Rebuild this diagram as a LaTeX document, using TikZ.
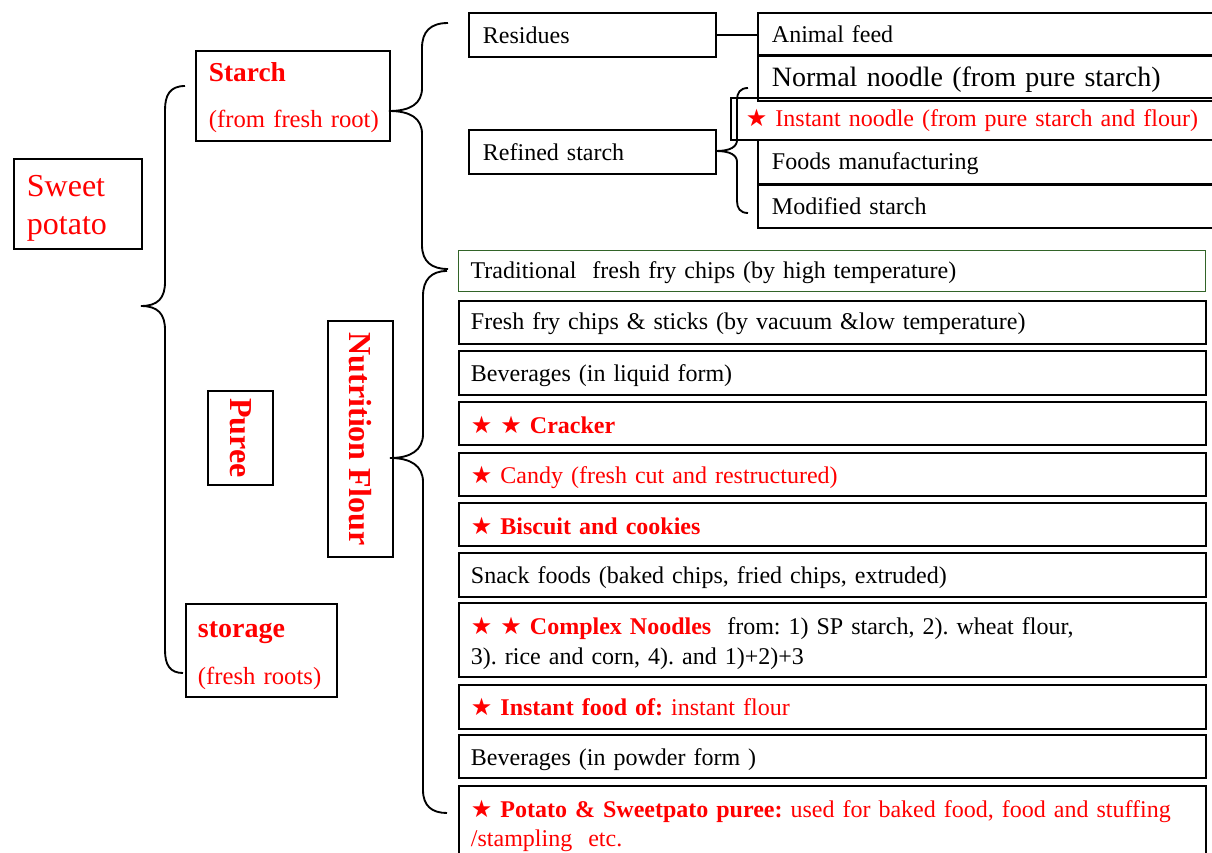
\documentclass[tikz,border=0pt]{standalone}
\usepackage{fontspec}
\setmainfont{Liberation Serif}
\newfontfamily\symfont{DejaVu Sans}
\newcommand{\st}{{\symfont ★}}
\definecolor{tred}{RGB}{255,0,0}
\definecolor{tgreen}{RGB}{50,100,40}
\frenchspacing
\begin{document}
\begin{tikzpicture}[x=0.75pt,y=-0.75pt,
  box/.style={draw, line width=1.4pt, inner ysep=0pt, anchor=north west, align=left},
  lbox/.style={box, text width=542.25pt, inner xsep=9pt, minimum height=#1, font=\fontsize{18}{22.5}\selectfont},
  tbox/.style={box, text width=322.5pt, inner xsep=10.5pt, minimum height=#1, font=\fontsize{18}{22}\selectfont},
  sbox/.style={box, text width=164.25pt, inner xsep=10.5pt, minimum height=33pt, font=\fontsize{18}{22}\selectfont},
  vbox/.style={draw, line width=1.4pt, rotate=-90, inner sep=0pt, minimum height=48.75pt, text=tred, font=\fontsize{24}{28}\selectfont\bfseries},
  brace/.style={line width=1.4pt},
  red/.style={text=tred}
]
\newcommand{\lstrut}{\rule{0pt}{15pt}}
\useasboundingbox (0,0) rectangle (1212,852);

% left column
\node[box, red, text width=76.5pt, inner xsep=9.75pt, minimum height=67.5pt, font=\fontsize{24}{28.5}\selectfont] (sp) at (13,158) {\rule{0pt}{22pt}Sweet\\potato};
\node[box, red, text width=126pt, inner xsep=9.75pt, minimum height=67.5pt, font=\fontsize{18.5}{35}\selectfont] (starch) at (195,50) {\rule{0pt}{17pt}\mbox{\fontsize{20.5}{35}\selectfont\bfseries Starch}\\\mbox{(from fresh root)}};
\node[box, red, text width=95.25pt, inner xsep=9pt, minimum height=69.75pt, font=\fontsize{18.5}{35}\selectfont] (stor) at (185,603) {\rule{0pt}{20pt}\mbox{\fontsize{21}{35}\selectfont\bfseries storage}\\\mbox{(fresh roots)}};
\node[vbox, minimum width=70.5pt] (puree) at (240.5,438) {Puree};
\node[vbox, minimum width=177pt] (nf) at (360.5,439) {\mbox{Nutrition Flour}\hspace{5pt}};

% starch branch
\node[sbox] (res) at (468,12) {Residues};
\node[sbox] (ref) at (468,129) {Refined starch};
\node[tbox=31.5pt] (af) at (757,12) {Animal feed};
\node[tbox=33.75pt, font=\fontsize{21}{25}\selectfont] (nn) at (757,55) {\rule{0pt}{17pt}Normal noodle (from pure starch)};
\node[box, red, text width=341.25pt, inner xsep=11.25pt, minimum height=31.5pt, font=\fontsize{18}{22}\selectfont] (in) at (730,97) {\lstrut\st\ Instant noodle (from pure starch and flour)};
\node[tbox=33pt] (fm) at (757,139) {\lstrut Foods manufacturing};
\node[tbox=32.25pt] (ms) at (757,184) {Modified starch};

% flour list
\node[lbox=30.75pt, draw=tgreen, line width=1pt] (l1) at (458,250) {\lstrut Traditional\ \ fresh fry chips (by high temperature)};
\node[lbox=32.25pt] (l2) at (458,300) {\lstrut Fresh fry chips \& sticks (by vacuum \&low temperature)};
\node[lbox=33pt] (l3) at (458,350) {\rule{0pt}{17pt}Beverages (in liquid form)};
\node[lbox=32.25pt, red] (l4) at (458,401) {\lstrut\st\ \st\ \textbf{Cracker}};
\node[lbox=32.25pt, red] (l5) at (458,452) {\rule{0pt}{17pt}\st\ Candy (fresh cut and restructured)};
\node[lbox=32.25pt, red] (l6) at (458,502) {\lstrut\st\ \textbf{Biscuit and cookies}};
\node[lbox=33pt] (l7) at (458,552) {\rule{0pt}{17pt}Snack foods (baked chips, fried chips, extruded)};
\node[lbox=55.5pt] (l8) at (458,602) {\rule{0pt}{18.5pt}\textcolor{tred}{\st\ \st\ \textbf{Complex Noodles}}\ \ from: 1) SP starch, 2). wheat flour,\\3). rice and corn, 4). and 1)+2)+3};
\node[lbox=33pt, red] (l9) at (458,684) {\st\ \textbf{Instant food of:} instant flour};
\node[lbox=32.25pt] (l10) at (458,734) {\rule{0pt}{17pt}Beverages (in powder form )};
\node[lbox=57pt, red, font=\fontsize{18}{21.75}\selectfont] (l11) at (458,785) {\rule{0pt}{16pt}\st\ \textbf{Potato \& Sweetpato puree:} used for baked food, food and stuffing\\/stampling\ \ etc.};

% connectors
\draw[brace] (res.east) -- (res.east -| af.west);

\coordinate (t0) at (141,306);
\draw[brace] (185,86) .. controls (170,86) and (165,95) .. (165,110) -- (165,282)
  .. controls (165,298) and (158,306) .. (t0)
  .. controls (158,306) and (165,314) .. (165,330) -- (165,650)
  .. controls (165,665) and (170,673) .. (183,673);

\coordinate (t1) at (389,111);
\draw[brace] (448,23) .. controls (430,23) and (422,32) .. (422,48) -- (422,88)
  .. controls (422,104) and (410,111) .. (t1)
  .. controls (410,111) and (422,118) .. (422,134) -- (422,245)
  .. controls (422,262) and (432,269) .. (448,269);

\coordinate (t2) at (390,458);
\draw[brace] (447,271) .. controls (431,271) and (423,280) .. (423,296) -- (423,434)
  .. controls (423,450) and (411,458) .. (t2)
  .. controls (411,458) and (423,466) .. (423,482) -- (423,790)
  .. controls (423,806) and (432,813) .. (447,813);

\coordinate (t3) at (716,151);
\draw[brace] (748,88) .. controls (740,88) and (737,93) .. (737,100) -- (737,140)
  .. controls (737,147) and (730,151) .. (t3)
  .. controls (730,151) and (737,155) .. (737,162) -- (737,201)
  .. controls (737,208) and (740,213) .. (748,213);
\end{tikzpicture}
\end{document}
